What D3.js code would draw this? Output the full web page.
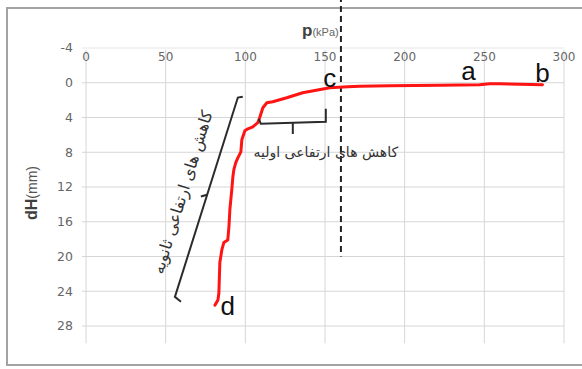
<!DOCTYPE html>
<html>
<head>
<meta charset="utf-8">
<script src="https://cdn.jsdelivr.net/npm/d3@7"></script>
<style>
  body { margin: 0; background: #fff; }
</style>
</head>
<body>
<div id="wrapper"></div>
<script>
const pValues = [80.9, 82.8, 83.4, 84, 85.3, 86.5, 89, 89.7, 90.3, 91.5, 92.2, 92.8,
  94, 95.3, 97.2, 97.8, 99.7, 101.6, 104.7, 107.8, 109, 111, 113.5, 117.2, 126,
  136, 153, 164.3, 171.8, 190.6, 222, 247, 253.3, 259.6, 286.5]
const dhValues = [25.6, 25.0, 24.2, 20.7, 19.2, 18.4, 18.1, 16.6, 14.6, 12.3, 10.8, 10.0,
  9.2, 8.64, 7.95, 6.57, 5.53, 5.3, 5.07, 4.6, 4.03, 2.88, 2.3, 2.19, 1.73,
  1.15, 0.58, 0.46, 0.4, 0.35, 0.29, 0.23, 0.12, 0.12, 0.23]

const xTicks = [0, 50, 100, 150, 200, 250, 300]
const yTicks = [-4, 0, 4, 8, 12, 16, 20, 24, 28]

// point letters
const pointNames = ["a", "b", "c", "d"]
const pointP = [240, 286.5, 153, 89]
const pointDh = [-0.3, -0.1, 0.46, 26.7]

const dashedP = 160
const dashedDh = [-10, 20]

// brace along the secondary settlements
const braceSecondaryP = [98.4, 95.3, 55.8, 59.6]
const braceSecondaryDh = [1.6, 1.7, 24.65, 25.2]
const tickSecondaryP = [76, 72.1]
const tickSecondaryDh = [12.9, 13.1]
// brace under the primary settlements
const bracePrimaryP = [108.5, 109.7, 150.5, 150.5]
const bracePrimaryDh = [4.15, 4.72, 4.49, 3.0]
const tickPrimaryP = [129.8, 129.8]
const tickPrimaryDh = [4.6, 5.9]

const labelPrimary = "کاهش های ارتفاعی اولیه"
const labelSecondary = "کاهش های ارتفاعی ثانویه"

function drawChart() {
  const data = pValues.map((p, i) => ({ p, dh: dhValues[i] }))
  const xAccessor = d => d.p
  const yAccessor = d => d.dh

  // 1. dimensions
  let dimensions = {
    width: 582,
    height: 369,
    margin: { top: 48, right: 18, bottom: 43, left: 86 }
  }
  dimensions.boundedWidth = dimensions.width
    - dimensions.margin.left - dimensions.margin.right
  dimensions.boundedHeight = 278

  // 2. canvas
  const wrapper = d3.select("#wrapper")
    .append("svg")
      .attr("width", dimensions.width)
      .attr("height", dimensions.height)

  wrapper.append("rect")
      .attr("x", 7)
      .attr("y", 8)
      .attr("width", 600)
      .attr("height", 357)
      .attr("fill", "#fff")
      .attr("stroke", "#a3a3a3")
      .attr("stroke-width", 2)

  const bounds = wrapper.append("g")
    .attr("transform", `translate(${dimensions.margin.left}, ${dimensions.margin.top})`)

  // 3. scales
  const xScale = d3.scaleLinear()
    .domain([0, 300])
    .range([0, 478])
  const yScale = d3.scaleLinear()
    .domain([-4, 28])
    .range([0, dimensions.boundedHeight])

  // 4. grid + tick labels
  const grid = bounds.append("g")
  grid.selectAll(".hgrid")
    .data(yTicks)
    .join("line")
      .attr("x1", -4)
      .attr("x2", xScale(300))
      .attr("y1", d => yScale(d))
      .attr("y2", d => yScale(d))
      .attr("stroke", d => d == -4 ? "#e6e6e6" : "#d6d6d6")
      .attr("stroke-width", 1)
  grid.selectAll(".vgrid")
    .data(xTicks)
    .join("line")
      .attr("x1", d => xScale(d))
      .attr("x2", d => xScale(d))
      .attr("y1", yScale(-3.8))
      .attr("y2", yScale(30))
      .attr("stroke", "#d6d6d6")
      .attr("stroke-width", 1)

  bounds.append("g").selectAll("text")
    .data(yTicks)
    .join("text")
      .attr("x", -13)
      .attr("y", d => yScale(d))
      .attr("dy", "0.35em")
      .attr("text-anchor", "end")
      .text(d => d)
      .style("fill", "#666")
      .style("font-size", "12.5px")
      .style("font-family", "DejaVu Sans, sans-serif")

  bounds.append("g").selectAll("text")
    .data(xTicks)
    .join("text")
      .attr("x", d => xScale(d))
      .attr("y", yScale(-4) + 9)
      .attr("dy", "0.35em")
      .attr("text-anchor", "middle")
      .text(d => d)
      .style("fill", "#666")
      .style("font-size", "12px")
      .style("font-family", "DejaVu Sans, sans-serif")

  // 5. dashed reference line
  bounds.append("line")
      .attr("x1", xScale(dashedP))
      .attr("x2", xScale(dashedP))
      .attr("y1", yScale(dashedDh[0]))
      .attr("y2", yScale(dashedDh[1]))
      .attr("stroke", "#222")
      .attr("stroke-width", 2)
      .style("stroke-dasharray", "6 4")

  // 6. curve
  const lineGenerator = d3.line()
    .x(d => xScale(xAccessor(d)))
    .y(d => yScale(yAccessor(d)))
  bounds.append("path")
      .attr("d", lineGenerator(data))
      .attr("fill", "none")
      .attr("stroke", "#ff1414")
      .attr("stroke-width", 3)
      .attr("stroke-linejoin", "round")
      .attr("stroke-linecap", "round")

  // 7. braces
  const braceLine = (ps, ds) => d3.line()
    .x(d => xScale(d[0]))
    .y(d => yScale(d[1]))(ps.map((p, i) => [p, ds[i]]))
  const braces = [
    [braceSecondaryP, braceSecondaryDh],
    [tickSecondaryP, tickSecondaryDh],
    [bracePrimaryP, bracePrimaryDh],
    [tickPrimaryP, tickPrimaryDh]
  ]
  bounds.append("g").selectAll("path")
    .data(braces)
    .join("path")
      .attr("d", d => braceLine(d[0], d[1]))
      .attr("fill", "none")
      .attr("stroke", "#2b2b2b")
      .attr("stroke-width", 2)

  // 8. annotations
  bounds.append("text")
      .attr("x", xScale(150.5))
      .attr("y", yScale(8.6))
      .attr("text-anchor", "middle")
      .text(labelPrimary)
      .style("fill", "#333")
      .style("font-size", "14px")
      .style("font-family", "DejaVu Sans, sans-serif")

  const sx = xScale(60.5), sy = yScale(12.6)
  bounds.append("text")
      .attr("transform", `translate(${sx}, ${sy}) rotate(-72.9)`)
      .attr("text-anchor", "middle")
      .attr("dy", "0.35em")
      .text(labelSecondary)
      .style("fill", "#333")
      .style("font-size", "16px")
      .style("font-family", "DejaVu Sans, sans-serif")

  bounds.append("g").selectAll("text")
    .data(pointNames)
    .join("text")
      .attr("x", (d, i) => xScale(pointP[i]))
      .attr("y", (d, i) => yScale(pointDh[i]))
      .attr("text-anchor", "middle")
      .text(d => d)
      .style("fill", "#111")
      .style("font-size", "26px")
      .style("font-family", "Liberation Sans, Arial, sans-serif")

  // 9. axis titles
  const xTitle = wrapper.append("text")
      .attr("x", 302)
      .attr("y", 36)
      .style("font-family", "Liberation Sans, Arial, sans-serif")
  xTitle.append("tspan")
      .text("p")
      .style("font-weight", "bold")
      .style("font-size", "17px")
      .style("fill", "#404040")
  xTitle.append("tspan")
      .text("(kPa)")
      .style("font-size", "11px")
      .style("fill", "#666")

  const yTitle = wrapper.append("text")
      .attr("transform", "translate(37, 220) rotate(-90)")
      .style("font-family", "Liberation Sans, Arial, sans-serif")
  yTitle.append("tspan")
      .text("dH")
      .style("font-weight", "bold")
      .style("font-size", "16px")
      .style("fill", "#404040")
  yTitle.append("tspan")
      .text("(mm)")
      .style("font-size", "14px")
      .style("fill", "#555")
}

drawChart()
</script>
</body>
</html>
